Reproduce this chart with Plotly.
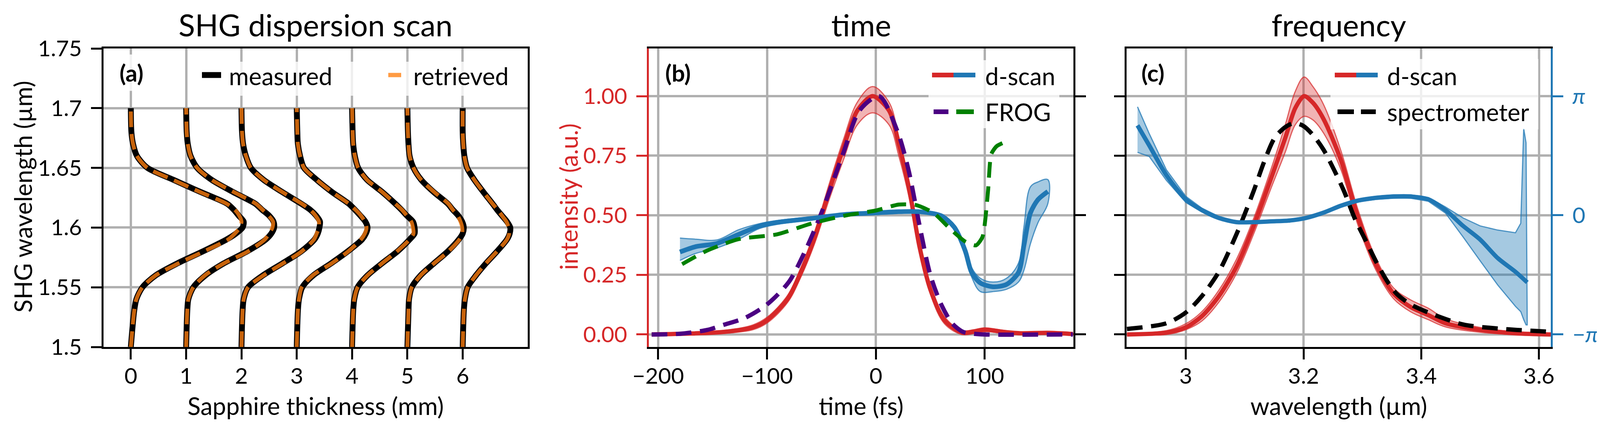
import math
import plotly.graph_objects as go

W, H = 4200, 1080
FONT = "Lato"
RED = "#d62728"
BLUE = "#1f77b4"
GRID = "#b0b0b0"
TICK_SIZE = 57
LABEL_SIZE = 62
TITLE_SIZE = 78

# ---------------- (a) SHG dispersion scan ----------------
shg_wavelength = [1.5, 1.53, 1.54, 1.55, 1.56, 1.57, 1.58, 1.59, 1.595, 1.6, 1.605,
                  1.61, 1.615, 1.62, 1.63, 1.64, 1.65, 1.66, 1.67, 1.68, 1.7]
thickness_mm = [0, 1, 2, 3, 4, 5, 6]

measured_0mm = [0, 0.06, 0.10, 0.21, 0.45, 0.84, 1.30, 1.73, 1.90, 2.02, 2.04, 1.95, 1.86, 1.74, 1.25, 0.77, 0.30, 0.11, 0.04, 0.01, 0]
measured_1mm = [0, 0.02, 0.04, 0.13, 0.35, 0.68, 1.10, 1.44, 1.54, 1.59, 1.58, 1.50, 1.37, 1.25, 0.84, 0.46, 0.20, 0.08, 0.03, 0.01, 0]
measured_2mm = [0, 0.02, 0.04, 0.12, 0.39, 0.74, 1.08, 1.32, 1.38, 1.41, 1.42, 1.35, 1.24, 1.08, 0.73, 0.40, 0.17, 0.08, 0.03, 0.01, 0]
measured_3mm = [0, 0.02, 0.04, 0.10, 0.30, 0.62, 0.92, 1.18, 1.25, 1.28, 1.24, 1.15, 1.05, 0.94, 0.63, 0.36, 0.13, 0.06, 0.02, 0.01, 0]
measured_4mm = [0, 0.02, 0.04, 0.10, 0.28, 0.54, 0.82, 1.04, 1.13, 1.13, 1.10, 0.99, 0.89, 0.78, 0.54, 0.27, 0.11, 0.05, 0.02, 0.01, 0]
measured_5mm = [0, 0.02, 0.03, 0.08, 0.24, 0.48, 0.73, 0.93, 1.00, 1.02, 0.99, 0.92, 0.82, 0.73, 0.47, 0.25, 0.11, 0.04, 0.02, 0.01, 0]
measured_6mm = [0, 0.02, 0.04, 0.09, 0.24, 0.42, 0.62, 0.80, 0.85, 0.86, 0.80, 0.71, 0.62, 0.54, 0.37, 0.21, 0.08, 0.03, 0.01, 0, 0]

retrieved_0mm = [0, 0.06, 0.10, 0.21, 0.45, 0.86, 1.32, 1.76, 1.88, 1.97, 2.00, 1.96, 1.88, 1.73, 1.24, 0.76, 0.30, 0.11, 0.04, 0.01, 0]
retrieved_1mm = [0, 0.02, 0.04, 0.13, 0.34, 0.68, 1.12, 1.42, 1.50, 1.56, 1.57, 1.49, 1.38, 1.26, 0.85, 0.46, 0.20, 0.08, 0.03, 0.01, 0]
retrieved_2mm = [0, 0.02, 0.04, 0.12, 0.40, 0.75, 1.09, 1.31, 1.36, 1.40, 1.40, 1.34, 1.24, 1.09, 0.73, 0.40, 0.17, 0.08, 0.03, 0.01, 0]
retrieved_3mm = [0, 0.02, 0.04, 0.09, 0.29, 0.63, 0.93, 1.16, 1.23, 1.26, 1.23, 1.16, 1.06, 0.94, 0.63, 0.36, 0.13, 0.06, 0.02, 0.01, 0]
retrieved_4mm = [0, 0.02, 0.04, 0.10, 0.28, 0.54, 0.81, 1.04, 1.11, 1.10, 1.07, 0.99, 0.90, 0.78, 0.54, 0.27, 0.11, 0.05, 0.02, 0.01, 0]
retrieved_5mm = [0, 0.02, 0.03, 0.08, 0.24, 0.48, 0.74, 0.94, 0.99, 0.99, 0.96, 0.91, 0.82, 0.74, 0.48, 0.25, 0.11, 0.04, 0.02, 0.01, 0]
retrieved_6mm = [0, 0.02, 0.04, 0.09, 0.24, 0.42, 0.62, 0.80, 0.84, 0.83, 0.79, 0.71, 0.63, 0.54, 0.37, 0.21, 0.08, 0.03, 0.01, 0, 0]

measured = [measured_0mm, measured_1mm, measured_2mm, measured_3mm, measured_4mm, measured_5mm, measured_6mm]
retrieved = [retrieved_0mm, retrieved_1mm, retrieved_2mm, retrieved_3mm, retrieved_4mm, retrieved_5mm, retrieved_6mm]

a_yticks = [1.5, 1.55, 1.6, 1.65, 1.7, 1.75]
a_yticktext = ["1.5", "1.55", "1.6", "1.65", "1.7", "1.75"]

# ---------------- (b) time ----------------
time_fs = [-206, -170, -139, -113, -100, -81, -69, -56, -43, -30, -17, -3, 12, 21, 31, 40, 50, 63, 79, 90, 100, 117, 133, 158, 181]
dscan_int = [0.0, 0.004, 0.011, 0.03, 0.06, 0.15, 0.26, 0.41, 0.60, 0.78, 0.94, 1.0, 0.94, 0.80, 0.60, 0.37, 0.19, 0.06, 0.008, 0.012, 0.02, 0.011, 0.005, 0.007, 0.002]
dscan_int_hi = [0.003, 0.008, 0.017, 0.04, 0.072, 0.165, 0.28, 0.435, 0.63, 0.815, 0.975, 1.04, 0.975, 0.83, 0.63, 0.395, 0.21, 0.075, 0.016, 0.02, 0.028, 0.017, 0.01, 0.012, 0.005]
dscan_int_lo = [0.0, 0.0, 0.005, 0.02, 0.048, 0.135, 0.24, 0.385, 0.565, 0.73, 0.88, 0.93, 0.88, 0.75, 0.565, 0.345, 0.17, 0.045, 0.0, 0.004, 0.012, 0.005, 0.0, 0.002, 0.0]

frog_t = [-206, -180, -155, -140, -120, -100, -80, -65, -50, -30, -15, 3, 20, 30, 40, 50, 60, 70, 80, 90, 100, 181]
frog_int = [0.0, 0.003, 0.019, 0.04, 0.07, 0.126, 0.22, 0.35, 0.51, 0.76, 0.94, 1.0, 0.85, 0.69, 0.46, 0.25, 0.126, 0.047, 0.011, 0.003, 0.0, 0.0]

phase_t = [-180, -165, -146, -126, -107, -91, -59, -27, 0, 21, 40, 60, 72, 82, 88, 96, 108, 120, 131, 136, 142, 149, 158]
dscan_phase_t = [-0.968, -0.823, -0.741, -0.503, -0.283, -0.188, -0.082, 0.025, 0.063, 0.094, 0.094, -0.013, -0.314, -0.930, -1.508, -1.784, -1.885, -1.822, -1.508, -0.792, 0.063, 0.415, 0.628]
dscan_phase_t_hi = [-0.60, -0.63, -0.65, -0.38, -0.22, -0.14, -0.04, 0.06, 0.10, 0.13, 0.13, 0.03, -0.26, -0.82, -1.38, -1.66, -1.76, -1.66, -1.26, -0.31, 0.75, 0.88, 0.94]
dscan_phase_t_lo = [-1.19, -1.00, -0.86, -0.63, -0.35, -0.24, -0.12, -0.01, 0.03, 0.06, 0.06, -0.05, -0.38, -1.07, -1.63, -2.01, -2.01, -1.95, -1.76, -1.45, -0.75, -0.19, 0.31]

frog_phase_t = [-178, -155, -126, -91, -59, -27, 0, 21, 37, 53, 69, 82, 92, 98, 103, 106, 111, 120]
frog_phase = [-1.288, -0.930, -0.628, -0.503, -0.214, 0.0, 0.126, 0.283, 0.270, 0.063, -0.377, -0.691, -0.792, -0.565, 0.628, 1.614, 1.822, 1.948]

b_xticks = [-200, -100, 0, 100]
b_xticktext = ["\u2212200", "\u2212100", "0", "100"]
int_ticks = [0, 0.25, 0.5, 0.75, 1.0]
int_ticktext = ["0.00", "0.25", "0.50", "0.75", "1.00"]

# ---------------- (c) frequency ----------------
wl_um = [2.90, 2.967, 3.0, 3.027, 3.056, 3.086, 3.115, 3.145, 3.169, 3.186, 3.201, 3.216, 3.234, 3.263, 3.293, 3.323, 3.353, 3.382, 3.412, 3.441, 3.501, 3.56, 3.62]
dscan_spec = [0.0, 0.008, 0.03, 0.076, 0.16, 0.284, 0.453, 0.656, 0.825, 0.95, 1.0, 0.972, 0.904, 0.735, 0.487, 0.295, 0.171, 0.115, 0.081, 0.047, 0.019, 0.005, 0.0]
dscan_spec_hi = [0.004, 0.016, 0.045, 0.095, 0.185, 0.315, 0.485, 0.695, 0.88, 1.02, 1.08, 1.04, 0.965, 0.775, 0.52, 0.32, 0.195, 0.145, 0.11, 0.066, 0.029, 0.01, 0.003]
dscan_spec_lo = [0.0, 0.0, 0.02, 0.056, 0.135, 0.255, 0.42, 0.615, 0.765, 0.88, 0.915, 0.9, 0.845, 0.695, 0.455, 0.27, 0.15, 0.095, 0.062, 0.032, 0.009, 0.0, 0.0]

spec_wl = [2.90, 2.967, 3.0, 3.027, 3.056, 3.086, 3.115, 3.133, 3.151, 3.169, 3.184, 3.199, 3.216, 3.234, 3.252, 3.269, 3.287, 3.305, 3.323, 3.341, 3.358, 3.382, 3.412, 3.471, 3.53, 3.62]
spectrometer = [0.023, 0.047, 0.092, 0.16, 0.262, 0.42, 0.60, 0.724, 0.825, 0.87, 0.887, 0.876, 0.837, 0.775, 0.69, 0.60, 0.487, 0.397, 0.307, 0.228, 0.171, 0.126, 0.092, 0.042, 0.025, 0.011]

phase_wl = [2.918, 2.938, 2.967, 3.0, 3.027, 3.056, 3.086, 3.115, 3.145, 3.175, 3.204, 3.234, 3.263, 3.293, 3.323, 3.353, 3.382, 3.412, 3.441, 3.471, 3.5, 3.53, 3.56, 3.58]
dscan_phase_w = [2.37, 1.84, 1.06, 0.42, 0.14, -0.07, -0.18, -0.18, -0.16, -0.14, -0.07, 0.07, 0.25, 0.39, 0.46, 0.495, 0.495, 0.42, 0.14, -0.28, -0.64, -1.13, -1.49, -1.77]
band_wl = [2.918, 2.938, 2.967, 3.0, 3.027, 3.056, 3.086, 3.115, 3.145, 3.175, 3.204, 3.234, 3.263, 3.293, 3.323, 3.353, 3.382, 3.412, 3.441, 3.471, 3.5, 3.53, 3.56, 3.569, 3.574, 3.578, 3.58]
dscan_phase_w_hi = [2.86, 2.15, 1.20, 0.50, 0.19, -0.03, -0.15, -0.15, -0.13, -0.11, -0.04, 0.11, 0.29, 0.43, 0.50, 0.54, 0.54, 0.47, 0.22, -0.07, -0.28, -0.39, -0.46, -0.21, 2.29, 1.91, -2.89]
dscan_phase_w_lo = [1.66, 1.55, 0.92, 0.34, 0.09, -0.11, -0.21, -0.21, -0.19, -0.17, -0.10, 0.03, 0.21, 0.35, 0.42, 0.45, 0.45, 0.37, 0.06, -0.57, -1.20, -1.84, -2.40, -2.54, -2.75, -2.89, -2.89]

c_xticks = [3.0, 3.2, 3.4, 3.6]
c_xticktext = ["3", "3.2", "3.4", "3.6"]
phase_ticks = [-math.pi, 0, math.pi]
phase_ticktext = ["\u2212<i>\u03c0</i>", "0", "<i>\u03c0</i>"]

INT_RANGE = [-0.0525, 1.2]
PHASE_RANGE = [(INT_RANGE[0] - 0.5) * 2 * math.pi, (INT_RANGE[1] - 0.5) * 2 * math.pi]


def px(x):
    return x / W


def py(y):
    return 1 - y / H


def band(x, hi, lo, color, fill, xa, ya, shape="spline"):
    return go.Scatter(x=list(x) + list(x)[::-1], y=list(hi) + list(lo)[::-1],
                      fill="toself", fillcolor=fill, mode="lines",
                      line=dict(color=color, width=3, shape=shape),
                      xaxis=xa, yaxis=ya, showlegend=False, hoverinfo="skip")


fig = go.Figure()

# (a)
for d, m in zip(thickness_mm, measured):
    fig.add_trace(go.Scatter(x=[d + v for v in m], y=shg_wavelength, mode="lines",
                             line=dict(color="black", width=15, shape="spline", smoothing=0.8),
                             xaxis="x", yaxis="y", showlegend=False))
for d, r in zip(thickness_mm, retrieved):
    fig.add_trace(go.Scatter(x=[d + v for v in r], y=shg_wavelength, mode="lines",
                             line=dict(color="rgba(255,127,14,0.78)", width=10, dash="40px,18px",
                                       shape="spline", smoothing=0.8),
                             xaxis="x", yaxis="y", showlegend=False))

# (b)
fig.add_trace(band(time_fs, dscan_int_hi, dscan_int_lo, "rgba(214,39,40,0.7)", "rgba(214,39,40,0.35)", "x2", "y2"))
fig.add_trace(go.Scatter(x=time_fs, y=dscan_int, mode="lines",
                         line=dict(color=RED, width=11, shape="spline", smoothing=0.8),
                         xaxis="x2", yaxis="y2", showlegend=False))
fig.add_trace(go.Scatter(x=frog_t, y=frog_int, mode="lines",
                         line=dict(color="#4b0082", width=11, dash="40px,22px", shape="spline", smoothing=0.8),
                         xaxis="x2", yaxis="y2", showlegend=False))
fig.add_trace(band(phase_t, dscan_phase_t_hi, dscan_phase_t_lo, "rgba(31,119,180,0.75)", "rgba(31,119,180,0.4)", "x2", "y3"))
fig.add_trace(go.Scatter(x=phase_t, y=dscan_phase_t, mode="lines",
                         line=dict(color=BLUE, width=12, shape="spline", smoothing=0.8),
                         xaxis="x2", yaxis="y3", showlegend=False))
fig.add_trace(go.Scatter(x=frog_phase_t, y=frog_phase, mode="lines",
                         line=dict(color="green", width=10, dash="40px,22px", shape="spline", smoothing=0.6),
                         xaxis="x2", yaxis="y3", showlegend=False))

# (c)
fig.add_trace(band(wl_um, dscan_spec_hi, dscan_spec_lo, "rgba(214,39,40,0.7)", "rgba(214,39,40,0.35)", "x3", "y4"))
fig.add_trace(go.Scatter(x=wl_um, y=dscan_spec, mode="lines",
                         line=dict(color=RED, width=11, shape="spline", smoothing=0.8),
                         xaxis="x3", yaxis="y4", showlegend=False))
fig.add_trace(go.Scatter(x=spec_wl, y=spectrometer, mode="lines",
                         line=dict(color="black", width=11, dash="40px,22px", shape="spline", smoothing=0.8),
                         xaxis="x3", yaxis="y4", showlegend=False))
fig.add_trace(band(band_wl, dscan_phase_w_hi, dscan_phase_w_lo, "rgba(31,119,180,0.75)", "rgba(31,119,180,0.4)", "x3", "y5", shape="linear"))
fig.add_trace(go.Scatter(x=phase_wl, y=dscan_phase_w, mode="lines",
                         line=dict(color=BLUE, width=11, shape="spline", smoothing=0.8),
                         xaxis="x3", yaxis="y5", showlegend=False))

tickfont = dict(family=FONT, size=TICK_SIZE, color="black")
common = dict(showgrid=True, gridcolor=GRID, gridwidth=6, zeroline=False, automargin=False,
              linewidth=5, ticks="outside", ticklen=27, tickwidth=5, tickfont=tickfont)
xcommon = dict(common, ticklabelstandoff=-6)
ycommon = dict(common, ticklabelstandoff=12)

dom_y = [py(880), py(116)]
fig.update_layout(
    width=W, height=H, margin=dict(l=0, r=0, t=0, b=0, autoexpand=False), autosize=False,
    paper_bgcolor="white", plot_bgcolor="white", font=dict(family=FONT, size=TICK_SIZE),
    xaxis=dict(domain=[px(257), px(1343)], range=[-0.494, 7.176], tickvals=thickness_mm,
               showline=True, linecolor="black", mirror=True, tickcolor="black", anchor="y", **xcommon),
    yaxis=dict(domain=dom_y, range=[1.5, 1.75], tickvals=a_yticks, ticktext=a_yticktext,
               showline=True, linecolor="black", mirror=True, tickcolor="black", anchor="x", **ycommon),
    xaxis2=dict(domain=[px(1653), px(2740)], range=[-208.6, 181.5], tickvals=b_xticks, ticktext=b_xticktext,
                showline=True, linecolor="black", mirror=True, tickcolor="black", anchor="y2", **xcommon),
    yaxis2=dict(domain=dom_y, range=INT_RANGE, tickvals=int_ticks, ticktext=int_ticktext,
                showline=True, linecolor=RED, tickcolor=RED, anchor="x2",
                **{**ycommon, "tickfont": dict(family=FONT, size=TICK_SIZE, color=RED)}),
    yaxis3=dict(overlaying="y2", side="right", anchor="x2", range=PHASE_RANGE, tickvals=phase_ticks,
                showticklabels=False, showgrid=False, zeroline=False, showline=True, linecolor="black",
                automargin=False, linewidth=5, ticks="outside", ticklen=27, tickwidth=5, tickcolor="black"),
    xaxis3=dict(domain=[px(2876), px(3962)], range=[2.8994, 3.62], tickvals=c_xticks, ticktext=c_xticktext,
                showline=True, linecolor="black", mirror=True, tickcolor="black", anchor="y4", **xcommon),
    yaxis4=dict(domain=dom_y, range=INT_RANGE, tickvals=int_ticks, showticklabels=False,
                showline=True, linecolor="black", tickcolor="black", anchor="x3", **ycommon),
    yaxis5=dict(overlaying="y4", side="right", anchor="x3", range=PHASE_RANGE, tickvals=phase_ticks,
                ticktext=phase_ticktext, showgrid=False, zeroline=False, showline=True, linecolor=BLUE,
                automargin=False, linewidth=5, ticks="outside", ticklen=27, tickwidth=5, tickcolor=BLUE,
                tickfont=dict(family=FONT, size=TICK_SIZE, color=BLUE), ticklabelstandoff=12),
)

# text: titles, axis labels, panel tags, legend labels
ann = []


def text(x, y, s, size=LABEL_SIZE, color="black", angle=0, xanchor="center", **kw):
    ann.append(dict(x=px(x), y=py(y), xref="paper", yref="paper", text=s, showarrow=False,
                    textangle=angle, xanchor=xanchor, yanchor="middle",
                    font=dict(family=FONT, size=size, color=color), **kw))


text(800, 55, "SHG dispersion scan", size=TITLE_SIZE)
text(2196, 55, "time", size=TITLE_SIZE)
text(3419, 55, "frequency", size=TITLE_SIZE)
text(800, 1030, "Sapphire thickness (mm)")
text(2196, 1030, "time (fs)")
text(3419, 1030, "wavelength (\u00b5m)")
text(50, 496, "SHG wavelength (\u00b5m)", angle=-90)
text(1447, 496, "intensity (a.u.)", color=RED, angle=-90)
text(4120, 492, "phase (rad)", color=BLUE, angle=-90)
for x, tag in [(328, "(a)"), (1727, "(b)"), (2943, "(c)")]:
    text(x, 178, "<b>%s</b>" % tag, size=60, bgcolor="rgba(255,255,255,0.85)", borderpad=10)
text(576, 186, "measured", xanchor="left")
text(1048, 186, "retrieved", xanchor="left")
text(2512, 186, "d-scan", xanchor="left")
text(2512, 278, "FROG", xanchor="left")
text(3541, 186, "d-scan", xanchor="left")
text(3541, 278, "spectrometer", xanchor="left")

# legend backgrounds and handles
shapes = []


def box(x0, y0, x1, y1):
    shapes.append(dict(type="rect", xref="paper", yref="paper", x0=px(x0), x1=px(x1), y0=py(y1), y1=py(y0),
                       fillcolor="rgba(255,255,255,0.8)", line=dict(width=0), layer="above"))


def handle(x0, x1, y, color, width=12):
    shapes.append(dict(type="line", xref="paper", yref="paper", x0=px(x0), x1=px(x1), y0=py(y), y1=py(y),
                       line=dict(color=color, width=width), layer="above"))


box(490, 150, 1330, 237)
box(2369, 146, 2704, 320)
box(3398, 143, 3930, 323)
handle(509, 558, 184, "black", 15)
handle(986, 1019, 184, "rgba(255,127,14,0.78)", 11)
handle(2378, 2433, 184, RED)
handle(2433, 2489, 184, BLUE)
handle(2382, 2420, 278, "#4b0082")
handle(2440, 2485, 278, "green")
handle(3409, 3464, 184, RED)
handle(3464, 3519, 184, BLUE)
handle(3416, 3458, 278, "black")
handle(3476, 3514, 278, "black")

fig.update_layout(annotations=ann, shapes=shapes)
fig.write_html("out.html")
